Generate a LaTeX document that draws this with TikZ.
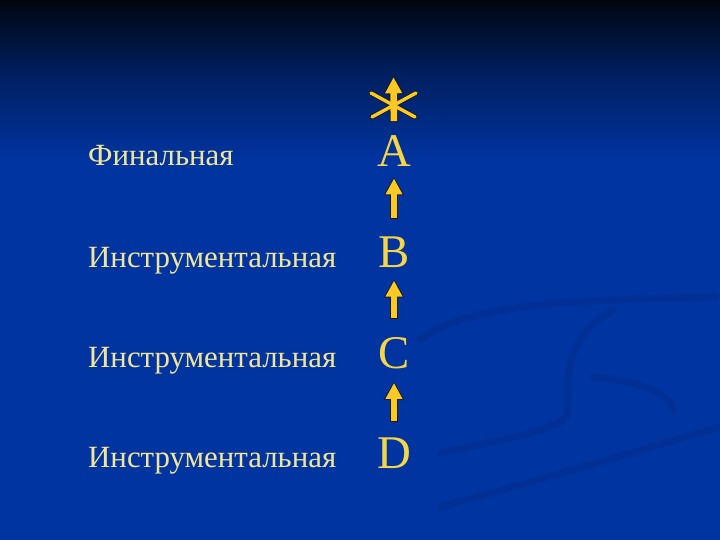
\documentclass[tikz,border=0pt]{standalone}
\usepackage{fontspec}
\setmainfont{Liberation Serif}
\usetikzlibrary{arrows.meta}
\definecolor{bgtop}{HTML}{01050F}
\definecolor{bgmid}{HTML}{001E5C}
\definecolor{bgmain}{HTML}{0034A0}
\definecolor{swirl}{HTML}{002D8E}
\definecolor{wordcol}{HTML}{F3E597}
\definecolor{lettercol}{HTML}{F6D547}
\definecolor{arrowcol}{HTML}{FBC925}
\definecolor{outl}{HTML}{1A1A10}
\tikzset{
  word/.style={anchor=base west, inner sep=0pt, text=wordcol, font=\fontsize{31}{35}\selectfont},
  letter/.style={anchor=base, inner sep=0pt, text=lettercol, font=\fontsize{47}{52}\selectfont},
  arrowout/.style={draw=outl, line width=8.6bp, -{Triangle[width=19bp,length=18bp]}},
  arrowin/.style={draw=arrowcol, line width=6.6bp, -{Triangle[width=16bp,length=16bp]}},
  crossline/.style={draw=arrowcol, line width=3.4bp, line cap=round},
  crossout/.style={draw=outl, line width=4.8bp, line cap=round},
  swirlline/.style={draw=swirl, line width=7bp, line cap=round, opacity=0.55}
}
\begin{document}
\begin{tikzpicture}[x=1bp,y=-1bp]
\useasboundingbox (0,0) rectangle (720,540);
% background
\fill[bgmain] (0,0) rectangle (720,540);
\shade[top color=bgtop, bottom color=bgmid] (0,0) rectangle (720,70);
\shade[top color=bgmid, bottom color=bgmain] (0,69.5) rectangle (720,160);
% faint swirls
\draw[swirlline] (420,340) .. controls (470,300) and (600,300) .. (715,297);
\draw[swirlline] (440,507) .. controls (540,480) and (640,450) .. (720,427);
\draw[swirlline] (440,453) .. controls (500,440) and (560,430) .. (567,415) .. controls (570,380) and (560,340) .. (613,310);
\draw[swirlline] (593,377) .. controls (630,380) and (670,390) .. (673,410);
% words
\node[word] (w1) at (88,166) {Финальная};
\node[word] (w2) at (88,268) {Инструментальная};
\node[word] (w3) at (88,367) {Инструментальная};
\node[word] (w4) at (88,467) {Инструментальная};
% letters
\node[letter] (A) at (394,167) {A};
\node[letter] (B) at (394,268) {B};
\node[letter] (C) at (394,368) {C};
\node[letter] (D) at (394,468) {D};
\coordinate (top) at (393.5,76);
% asterisk: outlines first, then fills
\draw[crossout] (371,93) -- (415,117);
\draw[crossout] (416,93) -- (372,117);
\draw[arrowout, shorten <=14bp] (A.north) -- (top);
\draw[crossline] (371,93) -- (415,117);
\draw[crossline] (416,93) -- (372,117);
\draw[arrowin, shorten <=14.8bp, shorten >=1.3bp] (A.north) -- (top);
% arrows
\draw[arrowout, shorten <=18bp, shorten >=10bp] (B.north) -- (A.south);
\draw[arrowin, shorten <=18.8bp, shorten >=11.3bp] (B.north) -- (A.south);
\draw[arrowout, shorten <=18bp, shorten >=11bp] (C.north) -- (B.south);
\draw[arrowin, shorten <=18.8bp, shorten >=12.3bp] (C.north) -- (B.south);
\draw[arrowout, shorten <=15bp, shorten >=13bp] (D.north) -- (C.south);
\draw[arrowin, shorten <=15.8bp, shorten >=14.3bp] (D.north) -- (C.south);
\end{tikzpicture}
\end{document}
